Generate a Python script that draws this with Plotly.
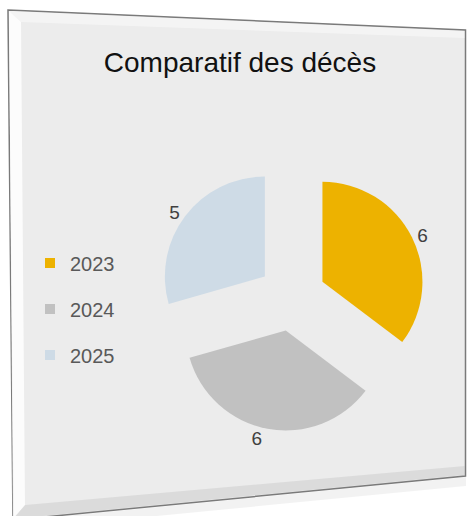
import plotly.graph_objects as go

# ---- data ----
years = ["2023", "2024", "2025"]
deaths = [6, 6, 5]
colors = ["#EDB200", "#C1C1C1", "#CEDBE6"]
title_text = "Comparatif des décès"

W, H = 467, 516


def sx(x):
    return x / W


def sy(y):
    return 1 - y / H


def path(pts):
    s = ""
    for i, (x, y) in enumerate(pts):
        s += ("M" if i == 0 else "L") + f"{sx(x):.4f},{sy(y):.4f} "
    return s + "Z"


fig = go.Figure()

fig.add_trace(go.Pie(
    labels=years,
    values=deaths,
    sort=False,
    direction="clockwise",
    rotation=0,
    pull=[0.34, 0.34, 0.34],
    marker=dict(colors=colors, line=dict(width=0)),
    textinfo="value",
    textposition="outside",
    textfont=dict(family="Liberation Sans, Arial, sans-serif", size=19, color="#404040"),
    domain=dict(x=[sx(158), sx(426)], y=[sy(431), sy(163)]),
    showlegend=False,
))

# legend entries (one per year, spaced like the original legend)
for yr, col in zip(years, colors):
    fig.add_trace(go.Scatter(
        x=[None], y=[None], mode="markers", name=yr,
        legendgroup=yr,
        marker=dict(symbol="square", size=10, color=col, line=dict(width=0)),
        hoverinfo="skip",
    ))

shapes = [
    # soft shadow under the panel
    dict(type="path", xref="paper", yref="paper", layer="below",
         path=path([(13, 521), (466, 477), (466, 486), (13, 530)]),
         fillcolor="rgba(0,0,0,0.05)", line=dict(width=0)),
    # panel
    dict(type="path", xref="paper", yref="paper", layer="below",
         path=path([(8, 10), (465.5, 30), (465.5, 476), (13, 520)]),
         fillcolor="#ECECEC", line=dict(color="#7a7a7a", width=1.5)),
    # left bevel highlight
    dict(type="path", xref="paper", yref="paper", layer="below",
         path=path([(9, 11), (21, 22), (25, 505), (13, 519)]),
         fillcolor="rgba(255,255,255,0.85)", line=dict(width=0)),
    # top bevel highlight
    dict(type="path", xref="paper", yref="paper", layer="below",
         path=path([(9, 11), (464.5, 31), (464.5, 38), (21, 22)]),
         fillcolor="rgba(255,255,255,0.45)", line=dict(width=0)),
    # bottom bevel shade
    dict(type="path", xref="paper", yref="paper", layer="below",
         path=path([(25, 505), (464.5, 466), (464.5, 475), (13, 519)]),
         fillcolor="rgba(0,0,0,0.07)", line=dict(width=0)),
]

fig.update_layout(
    width=W, height=H,
    margin=dict(l=0, r=0, t=0, b=0, autoexpand=False),
    paper_bgcolor="#FFFFFF",
    plot_bgcolor="rgba(0,0,0,0)",
    shapes=shapes,
    xaxis=dict(visible=False),
    yaxis=dict(visible=False),
    title=dict(text=title_text, x=sx(240), xanchor="center",
               y=sy(62), yanchor="middle",
               font=dict(family="Liberation Sans, Arial, sans-serif",
                         size=28, color="#111111")),
    legend=dict(x=sx(30), xanchor="left", y=sy(309), yanchor="middle",
                font=dict(family="Liberation Sans, Arial, sans-serif", size=20, color="#595959"),
                bgcolor="rgba(0,0,0,0)", itemwidth=30,
                traceorder="grouped", tracegroupgap=17),
)

fig.write_html(
    "out.html",
    config={"displayModeBar": False},
    post_script="document.body.style.margin='0';document.body.style.overflow='hidden';",
)
